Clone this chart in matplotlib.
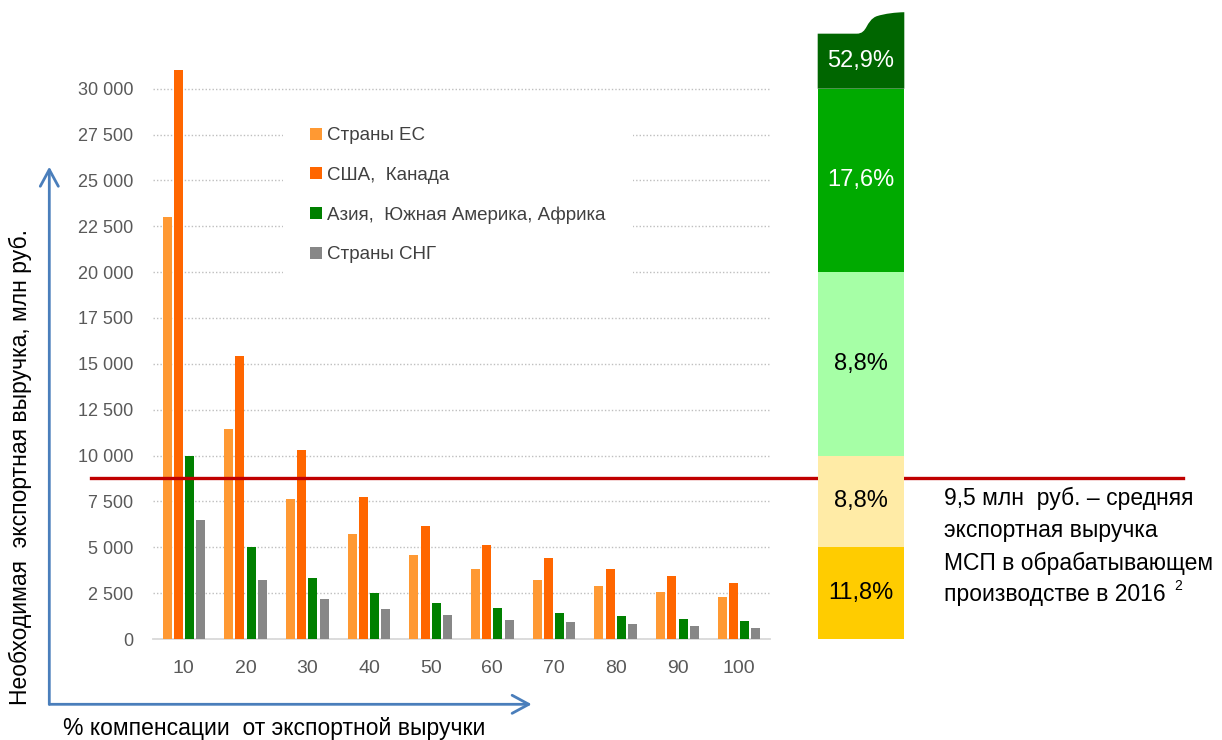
import numpy as np
import matplotlib
matplotlib.use("Agg")
import matplotlib.pyplot as plt
from matplotlib.patches import FancyArrowPatch, PathPatch
from matplotlib.path import Path

plt.rcParams['font.family'] = ['Liberation Sans', 'DejaVu Sans']

# --- data ---
categories = ['10', '20', '30', '40', '50', '60', '70', '80', '90', '100']
series_names = ['Страны ЕС', 'США,  Канада', 'Азия,  Южная Америка, Африка', 'Страны СНГ']
eu = [23000, 11450, 7630, 5740, 4580, 3790, 3240, 2880, 2570, 2270]
us = [31000, 15450, 10310, 7730, 6180, 5150, 4400, 3840, 3420, 3060]
asia = [10000, 5000, 3300, 2520, 1970, 1670, 1410, 1230, 1100, 1000]
cis = [6470, 3240, 2160, 1610, 1290, 1050, 920, 800, 690, 610]
series_colors = ['#FF9933', '#FF6600', '#008000', '#878787']

yticks = list(range(0, 30001, 2500))
ytick_labels = ['0', '2 500', '5 000', '7 500', '10 000', '12 500', '15 000',
                '17 500', '20 000', '22 500', '25 000', '27 500', '30 000']

avg_revenue = 8780  # red line level

# right-hand column: revenue bands and share of companies
band_edges = [0, 5000, 10000, 20000, 30000, 33000]
band_shares = ['11,8%', '8,8%', '8,8%', '17,6%', '52,9%']
band_colors = ['#FFCC00', '#FFEBA6', '#A6FFA6', '#00AA00', '#006600']
band_text_colors = ['black', 'black', 'black', 'white', 'white']

note_lines = ['9,5 млн  руб. – средняя', 'экспортная выручка',
              'МСП в обрабатывающем', 'производстве в 2016']

W, H = 1222, 740
fig = plt.figure(figsize=(W / 100, H / 100), dpi=100)
ymax = 31600
px_per_unit = 550.3 / 30000
ax_h = ymax * px_per_unit
ax = fig.add_axes([153 / W, 101 / H, 617 / W, ax_h / H])

x = np.arange(len(categories))
pitch = 0.1815
for i, (vals, col) in enumerate(zip([eu, us, asia, cis], series_colors)):
    ax.bar(x + (i - 1.5) * pitch, vals, width=0.146, color=col,
           label=series_names[i], zorder=3)

ax.set_xlim(-0.5, len(categories) - 0.5)
ax.set_ylim(0, ymax)
ax.set_yticks(yticks)
ax.set_yticklabels(ytick_labels)
ax.set_xticks(x)
ax.set_xticklabels(categories)
ax.tick_params(axis='y', length=0, pad=14, labelsize=13, labelcolor='#595959')
ax.tick_params(axis='x', length=0, pad=15, labelsize=14, labelcolor='#595959')
ax.yaxis.grid(True, color='#BFBFBF', linestyle=(0, (1, 1.5)), linewidth=1, zorder=0)
ax.set_axisbelow(True)
for s in ['top', 'right', 'left']:
    ax.spines[s].set_visible(False)
ax.spines['bottom'].set_color('#D9D9D9')
ax.spines['bottom'].set_linewidth(1.3)

# red average line, running past the axes on both sides
ax.axhline(avg_revenue, xmin=(91 - 153) / 617, xmax=(1183 - 153) / 617,
           color='#C00000', lw=2.4, clip_on=False, zorder=6)

leg = ax.legend(loc='upper left', bbox_to_anchor=(283 / W, 1 - 100 / H),
                bbox_transform=fig.transFigure, borderaxespad=0,
                frameon=True, facecolor='white', edgecolor='none', framealpha=1,
                fancybox=False, fontsize=13.5, handlelength=0.62, handleheight=0.62,
                handletextpad=0.3, labelspacing=1.2, borderpad=1.45)
for t in leg.get_texts():
    t.set_color('#404040')
leg.set_zorder(4)

# right column
ax2 = fig.add_axes([817.7 / W, 101 / H, 86.6 / W, ax_h / H])
ax2.set_zorder(2)
ax2.patch.set_visible(False)
ax2.set_xlim(-0.5, 0.5)
ax2.set_ylim(0, ymax)
ax2.axis('off')
lows = band_edges[:-2]
highs = band_edges[1:-1]
ax2.bar([0] * len(lows), np.subtract(highs, lows), bottom=lows, width=1,
        color=band_colors[:-1], clip_on=False)
# top band with a torn edge
b0, b1 = band_edges[-2], band_edges[-1]
verts = [(-0.5, b0), (-0.5, b1), (-0.05, b1),
         (0.08, b1), (0.05, b1 + 700), (0.18, b1 + 950),
         (0.28, b1 + 1100), (0.4, b1 + 1160), (0.5, b1 + 1170),
         (0.5, b0), (-0.5, b0)]
codes = [Path.MOVETO, Path.LINETO, Path.LINETO,
         Path.CURVE4, Path.CURVE4, Path.CURVE4,
         Path.CURVE4, Path.CURVE4, Path.CURVE4,
         Path.LINETO, Path.CLOSEPOLY]
ax2.add_patch(PathPatch(Path(verts, codes), facecolor=band_colors[-1],
                        edgecolor='none', clip_on=False))
for lo, hi, lab, tc in zip(band_edges[:-1], band_edges[1:], band_shares, band_text_colors):
    ax2.text(0, (lo + hi) / 2, lab, ha='center', va='center', color=tc,
             fontsize=17, clip_on=False)

# note text
note_y = [498, 531, 563, 595]
for line, yy in zip(note_lines, note_y):
    fig.text(944 / W, 1 - yy / H, line, ha='left', va='center', fontsize=16.5)
fig.text(1174 / W, 1 - 586 / H, '2', ha='left', va='center', fontsize=10)

# axis arrows
arrow_col = '#4A7EBB'
corner = (49.3 / W, 1 - 704.3 / H)
for tip in [(531.7 / W, 1 - 704.3 / H), (49.3 / W, 1 - 166.7 / H)]:
    fig.add_artist(FancyArrowPatch(corner, tip, transform=fig.transFigure,
                                   arrowstyle='->,head_length=1.2,head_width=0.65',
                                   mutation_scale=10, color=arrow_col, lw=2,
                                   shrinkA=0, shrinkB=0))

fig.text(20 / W, 1 - 467 / H, 'Необходимая  экспортная выручка, млн руб.',
         rotation=90, ha='center', va='center', fontsize=16.5)
fig.text(63 / W, 1 - 728 / H, '% компенсации  от экспортной выручки',
         ha='left', va='center', fontsize=16.5)

fig.savefig('out.png', dpi=100)
